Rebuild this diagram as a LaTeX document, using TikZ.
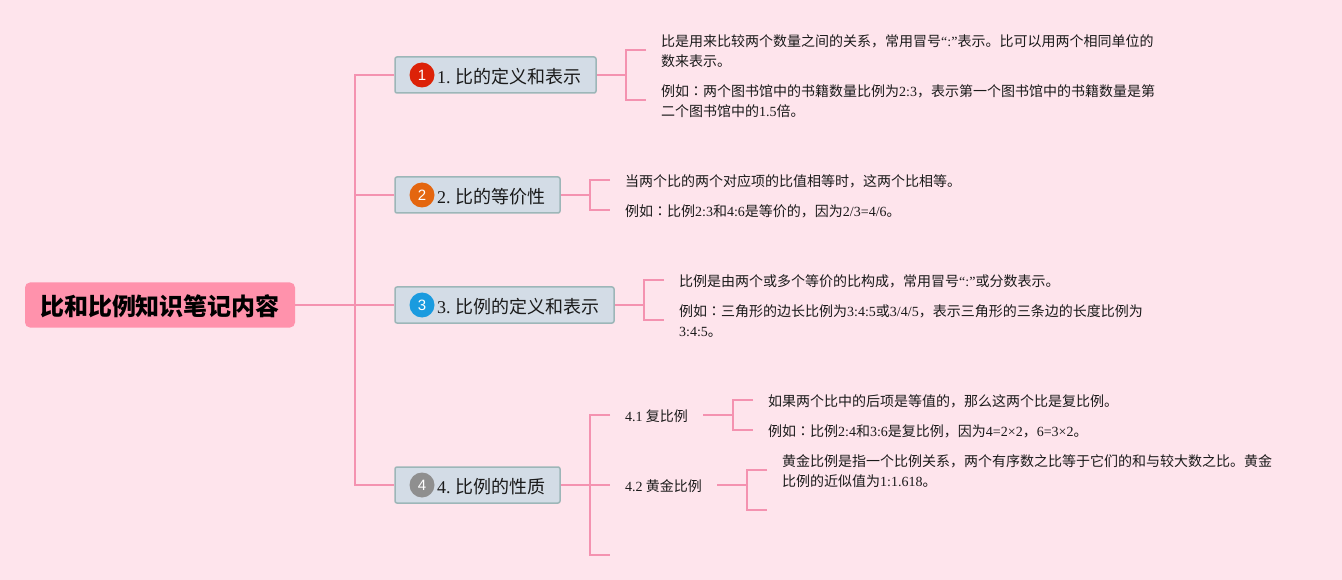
\documentclass[tikz,border=0pt]{standalone}
\usepackage{fontspec}
\setmainfont{Noto Sans CJK SC}
\newfontfamily\lat{Liberation Serif}
\newfontfamily\tcfont{Noto Sans CJK TC}
\newfontfamily\dejav{Liberation Sans}
\newcommand{\La}[1]{{\lat #1}}
\newcommand{\Cn}{{\tcfont ：}}
\newcommand{\Hd}[2]{\makebox[#1pt][l]{\rule{0pt}{18pt}\hspace{42pt}#2}}
\definecolor{bgpink}{HTML}{FEE4EC}
\definecolor{linepink}{HTML}{F492B0}
\definecolor{rootpink}{HTML}{FF92AC}
\definecolor{boxfill}{HTML}{D3DCE6}
\definecolor{boxedge}{HTML}{9DB6B8}
\definecolor{ink}{HTML}{1A1A1A}
\definecolor{badgeA}{HTML}{DC2208}
\definecolor{badgeB}{HTML}{E4660F}
\definecolor{badgeC}{HTML}{1A9BDF}
\definecolor{badgeD}{HTML}{8F8F8F}
\tikzset{
  conn/.style={draw=linepink,line width=2pt,line join=miter},
  rootbox/.style={fill=rootpink,rounded corners=5pt,minimum width=270pt,minimum height=45pt,inner sep=0pt,font=\fontsize{24}{28}\selectfont\bfseries,text=black,execute at begin node={\rule{0pt}{24pt}}},
  topicbox/.style={fill=boxfill,draw=boxedge,line width=1.5pt,rounded corners=2pt,minimum height=36pt,inner sep=0pt,font=\fontsize{18}{22}\selectfont,text=ink},
  badge/.style={circle,minimum size=25pt,inner sep=0pt,text=white,font=\fontsize{15}{15}\selectfont\dejav,text height=10.7pt,text depth=0pt},
  leaf/.style={anchor=west,inner xsep=15pt,inner ysep=0pt,align=left,font=\fontsize{14}{20}\selectfont,text=ink,execute at begin node={\rule{0pt}{15pt}}},
  sub/.style={anchor=west,inner xsep=15pt,inner ysep=2pt,font=\fontsize{14}{18}\selectfont,text=ink,execute at begin node={\rule{0pt}{15pt}}},
  lineup/.style={yshift=1.5pt},
}
\begin{document}
\begin{tikzpicture}[x=1pt,y=-1pt]
\useasboundingbox (0,0) rectangle (1342,580);
\fill[bgpink] (0,0) rectangle (1342,580);
% root
\node[rootbox] (root) at (160,305) {比和比例知识笔记内容};
% topics
\node[topicbox] (b1) at (495.5,75) {\Hd{201}{\La{1.} 比的定义和表示}};
\node[topicbox] (b2) at (477.5,195) {\Hd{165}{\La{2.} 比的等价性}};
\node[topicbox] (b3) at (504.5,305) {\Hd{219}{\La{3.} 比例的定义和表示}};
\node[topicbox] (b4) at (477.5,485) {\Hd{165}{\La{4.} 比例的性质}};
% badges
\node[badge,fill=badgeA] (i1) at (422,75) {1};
\node[badge,fill=badgeB] (i2) at (422,195) {2};
\node[badge,fill=badgeC] (i3) at (422,305) {3};
\node[badge,fill=badgeD] (i4) at (422,485) {4};
% leaves
\node[leaf] (l11) at (646,51.5) {比是用来比较两个数量之间的关系，常用冒号\La{“:”}表示。比可以用两个相同单位的\\数来表示。};
\node[leaf] (l12) at (646,101.5) {例如\Cn 两个图书馆中的书籍数量比例为\La{2:3}，表示第一个图书馆中的书籍数量是第\\二个图书馆中的\La{1.5}倍。};
\node[leaf] (l21) at (610,180) {当两个比的两个对应项的比值相等时，这两个比相等。};
\node[leaf] (l22) at (610,210) {例如\Cn 比例\La{2:3}和\La{4:6}是等价的，因为\La{2/3=4/6}。};
\node[leaf] (l31) at (664,280) {比例是由两个或多个等价的比构成，常用冒号\La{“:”}或分数表示。};
\node[leaf] (l32) at (664,321.5) {例如\Cn 三角形的边长比例为\La{3:4:5}或\La{3/4/5}，表示三角形的三条边的长度比例为\\\La{3:4:5}。};
\node[sub] (s1) at (610,415) {\La{4.1} 复比例};
\node[sub] (s2) at (610,485) {\La{4.2} 黄金比例};
\node[leaf] (l411) at (753,400) {如果两个比中的后项是等值的，那么这两个比是复比例。};
\node[leaf] (l412) at (753,430) {例如\Cn 比例\La{2:4}和\La{3:6}是复比例，因为\La{4=2×2}，\La{6=3×2}。};
\node[leaf] (l421) at (767,471.5) {黄金比例是指一个比例关系，两个有序数之比等于它们的和与较大数之比。黄金\\比例的近似值为\La{1:1.618}。};
% free ends and junctions
\coordinate (e3) at (610,555);
\coordinate (e42) at (767,510);
\coordinate (j0) at (355,305);
\coordinate (j1) at (626,75);
\coordinate (j2) at (590,195);
\coordinate (j3) at (644,305);
\coordinate (j4) at (590,485);
\coordinate (j41) at (733,415);
\coordinate (j42) at (747,485);
% connectors
\draw[conn] (root.east) -- (b3.west);
\draw[conn] (b1.west) -| (j0) |- (b4.west);
\draw[conn] (b2.west) -- (j0|-b2.west);
\draw[conn] (b1.east) -- (j1);
\draw[conn] ([lineup]l11.west) -| (j1) |- ([lineup]l12.west);
\draw[conn] (b2.east) -- (j2);
\draw[conn] (l21.west) -| (j2) |- (l22.west);
\draw[conn] (b3.east) -- (j3);
\draw[conn] (l31.west) -| (j3) |- ([lineup]l32.west);
\draw[conn] (b4.east) -- (s2.west);
\draw[conn] (s1.west) -| (j4) |- (e3);
\draw[conn] (s1.east) -- (j41);
\draw[conn] (l411.west) -| (j41) |- (l412.west);
\draw[conn] (s2.east) -- (j42);
\draw[conn] ([lineup]l421.west) -| (j42) |- (e42);
\end{tikzpicture}
\end{document}
